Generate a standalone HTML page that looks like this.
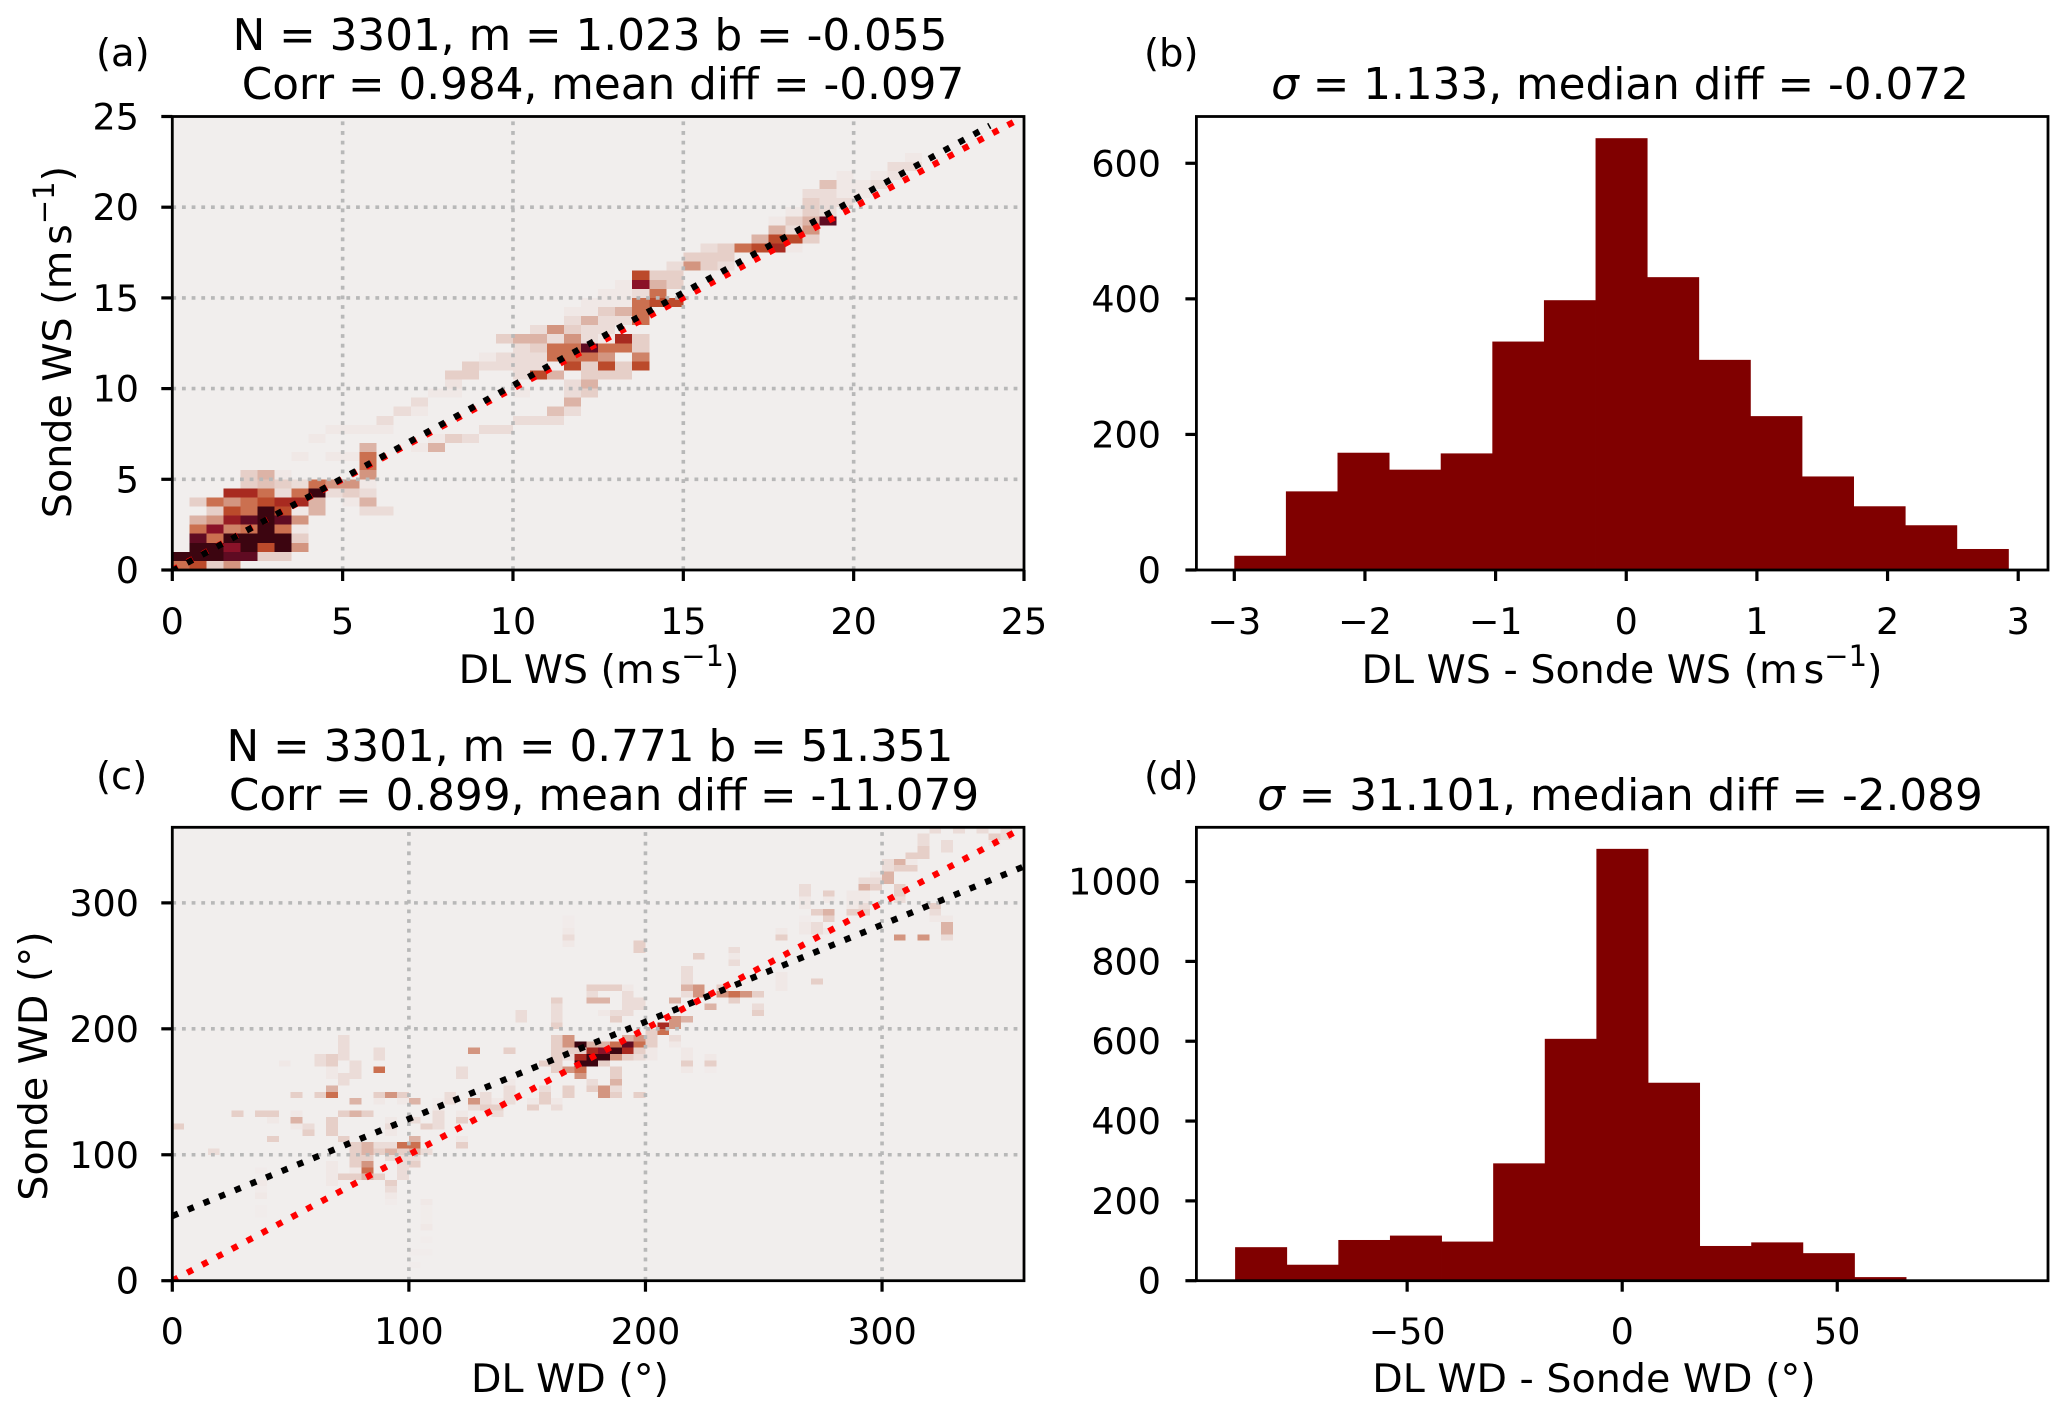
<!DOCTYPE html>
<html lang="en">
<head>
<meta charset="utf-8">
<title>DL vs Sonde wind comparison</title>
<style>
html,body{margin:0;padding:0;background:#fff;width:2067px;height:1416px;overflow:hidden}
svg{display:block}
text{font-family:"DejaVu Sans","Liberation Sans",sans-serif;fill:#000}
.title{font-size:43.7px}
.panel{font-size:38.5px}
.axis{font-size:39.6px}
.tick{font-size:36.5px}
</style>
</head>
<body>
<svg id="fig" xmlns="http://www.w3.org/2000/svg" width="2067" height="1416" viewBox="0 0 2067 1416">
  <g id="ax-a"></g>
  <g id="ax-b"></g>
  <g id="ax-c"></g>
  <g id="ax-d"></g>

  <text class="panel" x="96" y="66">(a)</text>
  <text class="panel" x="1144" y="66">(b)</text>
  <text class="panel" x="96" y="789">(c)</text>
  <text class="panel" x="1144" y="789">(d)</text>

  <text class="title" x="590" y="50" text-anchor="middle">N = 3301, m = 1.023 b = -0.055</text>
  <text class="title" x="603" y="99" text-anchor="middle">Corr = 0.984, mean diff = -0.097</text>
  <text class="title" x="1620" y="99" text-anchor="middle"><tspan font-style="italic">σ</tspan> = 1.133, median diff = -0.072</text>
  <text class="title" x="590" y="761" text-anchor="middle">N = 3301, m = 0.771 b = 51.351</text>
  <text class="title" x="604" y="810" text-anchor="middle">Corr = 0.899, mean diff = -11.079</text>
  <text class="title" x="1620" y="810" text-anchor="middle"><tspan font-style="italic">σ</tspan> = 31.101, median diff = -2.089</text>

  <text class="axis" x="599" y="683" text-anchor="middle">DL WS (m<tspan dx="6">s</tspan><tspan font-size="29" dy="-17">−1</tspan><tspan dy="17">)</tspan></text>
  <text class="axis" x="1622" y="683" text-anchor="middle">DL WS - Sonde WS (m<tspan dx="6">s</tspan><tspan font-size="29" dy="-17">−1</tspan><tspan dy="17">)</tspan></text>
  <text class="axis" x="570" y="1392" text-anchor="middle">DL WD (°)</text>
  <text class="axis" x="1594" y="1392" text-anchor="middle">DL WD - Sonde WD (°)</text>
  <text class="axis" transform="translate(71,342) rotate(-90)" text-anchor="middle">Sonde WS (m<tspan dx="6">s</tspan><tspan font-size="29" dy="-17">−1</tspan><tspan dy="17">)</tspan></text>
  <text class="axis" transform="translate(47,1066) rotate(-90)" text-anchor="middle">Sonde WD (°)</text>
</svg>

<script>
// ---------- Panel (a) data: wind speed 2-D histogram, [xBin, yBin, level] ----------
const wsBinWidth = 0.5;
const wsCells = [
[0,0,6],[1,0,7],[2,0,3],[3,0,5],
[0,1,11],[1,1,11],[2,1,11],[3,1,10],[4,1,10],[5,1,3],[6,1,3],
[1,2,11],[2,2,11],[3,2,9],[4,2,11],[5,2,7],[6,2,11],[7,2,5],
[1,3,10],[2,3,6],[3,3,11],[4,3,11],[5,3,11],[6,3,11],[7,3,3],
[1,4,6],[2,4,9],[3,4,5.5],[4,4,6],[5,4,11],[6,4,6],[7,4,1],
[1,5,4],[2,5,5],[3,5,8.5],[4,5,10],[5,5,11],[6,5,10],[7,5,5],
[2,6,3],[3,6,7],[4,6,6],[5,6,11],[6,6,7],[7,6,1],[8,6,4],[11,6,2],[12,6,2],
[1,7,3],[2,7,6],[3,7,5],[4,7,6],[5,7,7],[6,7,8],[7,7,8],[8,7,4],[10,7,1],[11,7,4],
[3,8,8],[4,8,8],[5,8,6],[6,8,2],[7,8,6],[8,8,11],[9,8,2],[10,8,3],[11,8,2],
[4,9,3],[5,9,3.5],[6,9,3],[7,9,2],[8,9,6],[9,9,5],[10,9,5],[11,9,1],
[4,10,3],[5,10,4],[6,10,1],[11,10,5],
[11,11,6],
[7,12,1],[9,12,1],[10,12,1],[11,12,6],
[11,13,4],[14,13,1],[15,13,4],
[8,14,1],[15,14,1],[16,14,3],[17,14,2],
[9,15,1],[10,15,1],[11,15,1],[12,15,1],[18,15,2],[19,15,2],
[12,16,2],[20,16,2],[21,16,2],[22,16,2],
[13,17,2],[14,17,1],[22,17,3.5],[23,17,2],
[14,18,2],[23,18,4],
[15,19,1],[16,19,1],[20,19,1],[23,19,2],[24,19,3],
[16,20,1.5],[23,20,2],[24,20,4],
[16,21,3],[17,21,3],[20,21,2],[21,21,7],[22,21,4],[24,21,3],[25,21,3],[26,21,3],
[17,22,3],[18,22,2],[19,22,2],[20,22,2],[21,22,2],[23,22,7],[24,22,3],[25,22,7],[26,22,3],[27,22,7],
[18,23,1],[19,23,2],[20,23,2],[21,23,2],[22,23,6],[23,23,6],[24,23,6],[25,23,5],[27,23,5.5],
[20,24,2],[21,24,3],[22,24,6],[23,24,6],[24,24,10],[25,24,6],[26,24,6],[27,24,3],
[19,25,3],[20,25,4],[21,25,4],[22,25,2],[23,25,5],[24,25,2],[25,25,1],[26,25,8],[27,25,3],
[21,26,2],[22,26,5],[23,26,3],[24,26,2],[25,26,2],
[23,27,2],[24,27,4],[25,27,2],[26,27,2],[27,27,6],
[23,28,1],[24,28,1],[25,28,3],[26,28,4],[27,28,6],
[24,29,1],[25,29,1],[26,29,1],[27,29,6],[28,29,7],[29,29,7],
[25,30,1],[26,30,1],[27,30,2],[28,30,6],
[26,31,1],[27,31,9],[28,31,4],[29,31,3],
[27,32,7],[28,32,3],[29,32,3],
[29,33,2],[30,33,5],[31,33,3],[32,33,2],
[30,34,3],[31,34,3],[32,34,3],
[31,35,2],[32,35,3],[33,35,6],[34,35,7],[35,35,8],[36,35,1],
[34,36,4],[35,36,7],[36,36,7],[37,36,3],
[35,37,4],[36,37,2],[37,37,5],
[35,38,1],[36,38,3],[37,38,4],[38,38,10],
[36,39,1],[37,39,3],[38,39,2],
[37,40,3],[38,40,2],[39,40,2],
[37,41,2],[38,41,2],[39,41,1],[40,41,1],
[38,42,3.5],[39,42,1],[40,42,1],[41,42,2],
[39,43,1],[41,43,1],[42,43,1.5],
[42,44,2],[43,44,2],
[43,45,1]
];
const wsFitSlope = 1.023;
const wsFitIntercept = -0.055;
const wsFitRange = [0, 24];
const wsOneToOneRange = [0, 25];
const wsTicks = [0, 5, 10, 15, 20, 25];

// ---------- Panel (b) data: wind speed difference histogram ----------
const wsDiffCounts = [21, 116, 173, 148, 172, 337, 398, 637, 432, 310, 227, 138, 94, 66, 31];
const wsDiffStart = -3.0;
const wsDiffBinWidth = 0.395;
const wsDiffXTicks = [-3, -2, -1, 0, 1, 2, 3];
const wsDiffYTicks = [0, 200, 400, 600];

// ---------- Panel (c) data: wind direction 2-D histogram, [xBin, yBin, level] ----------
const wdBinWidth = 5;
const wdCells = [
[0,24,3],[3,20,2],[5,26,3],[7,26,3],[8,26,3],[8,25,1],[8,22,3],[10,29,3],[9,34,1],
[10,26,1],[10,25,4],[10,24,1],[11,24,2],[11,23,3],[12,29,3],[12,35,2],[12,34,2],
[7,17,0.5],[7,15,1],[7,14,0.5],[7,13,1],[7,11,0.3],[7,10,0.3],
[13,35,3],[13,34,3],[13,33,1],[13,32,1],[13,30,4],[13,29,6],[13,25,3],[13,24,3],[13,23,3],
[14,38,2],[14,37,2],[14,36,2],[14,35,2],[14,32,2],[14,31,2],[14,26,3],[14,22,3],
[13,18,1],[13,17,1],[13,16,1],[13,15,1],
[15,34,2],[15,33,2],[15,32,2],[15,28,4],[15,26,4],[15,21,3],[15,20,3],[15,19,3],[15,18,3],[15,17,1],
[14,16,3],[15,16,3],
[16,26,3],[16,21,4],[16,20,4],[16,19,3],[16,18,5],[16,17,6],[16,16,4],
[17,36,2],[17,35,2],[17,33,6],[17,29,3],[17,28,1],[17,21,2],[17,20,3],[17,16,3],
[18,29,5],[18,25,1],[18,24,2],[18,23,1],[18,21,2],[18,20,4],[18,19,2],[18,15,3],[18,14,2],[18,13,1],[18,12,0.5],
[19,29,3],[19,28,1],[19,21,6],[19,20,3],[19,19,2],[19,18,2],[19,17,2],[19,16,2],
[20,28,4],[20,25,2],[20,22,4],[20,21,6],[20,20,4],[20,19,2],[20,18,3],[20,4,0.3],[20,2,0.3],
[21,24,3],[21,20,2],[21,12,1],[21,11,0.4],[21,10,0.4],[21,9,0.4],[21,8,1],[21,6,0.3],[21,4,0.3],
[22,28,0.5],[22,27,1],[22,26,2],[22,25,2],[22,24,2],
[23,29,2],[23,28,2],
[24,33,2],[24,32,2],[24,26,1],[24,25,3],[24,22,1],[24,21,3],
[25,36,5],[25,28,5],[25,27,2],
[26,29,2],[26,28,2],[26,27,3],
[27,28,1],[27,27,3],[27,26,2],
[28,36,3],[28,31,1],[28,30,2],[28,29,2],[28,28,2],
[29,42,2],[29,41,2],
[30,28,1],[30,27,3],
[31,34,3],[31,30,2],[31,29,3],[31,28,3],
[32,44,3],[32,43,2],[32,42,2],[32,41,2],[32,40,3],[32,38,3],[32,37,3],[32,36,3],[32,35,3],[32,34,3],[32,33,3],[32,28,1],[32,27,2],
[33,57,0.5],[33,56,0.5],[33,55,1],[33,54,2],[33,53,1],[33,38,5],[33,37,5],[33,36,3],[33,35,2],[33,33,5],[33,30,3],[33,29,3],
[34,37,11],[34,36,3],[34,35,8],[34,34,11],[34,33,6],[34,32,5],
[35,46,3],[35,45,2],[35,44,4],[35,37,4],[35,36,8],[35,35,11],[35,34,11],[35,31,2],[35,30,3],
[36,46,3],[36,44,4],[36,42,1],[36,37,4],[36,36,9],[36,35,11],[36,34,3],[36,30,5],[36,29,5],
[37,46,3],[37,42,2],[37,41,3],[37,37,6],[37,36,11],[37,35,5],[37,33,3],[37,32,3],[37,31,4],[37,30,2],[37,29,3],
[38,46,1],[38,45,2],[38,44,2],[38,43,2],[38,42,2],[38,38,4],[38,37,10],[38,36,8],[38,35,3],
[39,53,3],[39,52,3],[39,44,2],[39,43,2],[39,38,5],[39,37,6],[39,36,3],[39,35,2],[39,29,3],
[40,39,3],[40,38,3],[40,37,3],[40,36,1],[40,35,1],
[41,40,8],[41,39,6],
[42,44,4],[42,41,5],[42,40,5],[42,38,2],[42,37,1],
[43,49,2],[43,48,2],[43,47,2],[43,46,4],[43,45,2],[43,41,4],[43,36,1],[43,35,1],[43,34,3],[43,33,1],
[44,51,3],[44,46,5],[44,45,5],
[45,43,4],[45,35,1],[45,34,3],[45,33,0.5],
[46,46,3],[46,45,5],
[47,52,2],[47,51,1],[47,50,2],[47,45,6],[47,44,3],
[48,45,5],
[49,45,3],[49,43,2],[49,42,3],
[51,55,1],[51,54,3],[51,48,1],[51,47,1],[51,46,1],
[53,62,2],[53,61,2],[53,60,1],[53,59,1],[53,57,0.5],[53,56,1],[53,55,1],
[54,58,3],[54,56,2],[54,55,2],[54,47,3],
[55,61,3],[55,60,1],[55,58,4],[55,57,3],[55,55,1],
[57,61,1],[57,60,1],[57,59,1],[57,58,3],
[58,63,2],[58,62,4],[58,61,1],[58,60,1],[58,59,2],[58,58,3],
[59,64,1],[59,63,2],[59,62,3],
[60,66,2],[60,65,2],[60,64,4],[60,63,4],
[61,66,4],[61,65,3],[61,62,3],[61,61,3],[61,60,2],[61,54,5],
[62,67,3],[62,66,1],[62,65,3],
[63,70,2],[63,69,2],[63,68,3],[63,67,3],[63,54,5],
[64,71,2],[64,59,3],[64,58,2],[64,57,1],
[65,69,2],[65,68,2],[65,57,1],[65,56,4],[65,55,4],[65,54,2],
[66,71,2],[68,71,2],[69,70,3],[69,69,1],[70,71,2],[70,70,2]
];
const wdFitSlope = 0.771;
const wdFitIntercept = 51.351;
const wdFitRange = [0, 360];
const wdOneToOneRange = [0, 360];
const wdTicks = [0, 100, 200, 300];

// ---------- Panel (d) data: wind direction difference histogram ----------
const wdDiffCounts = [84, 40, 102, 113, 98, 294, 606, 1082, 496, 87, 96, 69, 9, 0, 0];
const wdDiffStart = -90;
const wdDiffBinWidth = 12;
const wdDiffXTicks = [-50, 0, 50];
const wdDiffYTicks = [0, 200, 400, 600, 800, 1000];

// ---------- Drawing ----------
const NS = 'http://www.w3.org/2000/svg';
const levelColors = ['#f1eeed','#f0e8e6','#ebdcd8','#e6cfc8','#dcb3a6','#d39580','#cb7050','#bb4a2b','#a82a20','#8a1228','#5f0b22','#3c0510'];

function hexToRgb(h){return [1,3,5].map(function(i){return parseInt(h.substr(i,2),16);});}
function levelColor(v){
  const c = Math.max(0, Math.min(levelColors.length - 1, v));
  const i = Math.floor(c), j = Math.min(levelColors.length - 1, i + 1), t = c - i;
  const a = hexToRgb(levelColors[i]), b = hexToRgb(levelColors[j]);
  return 'rgb(' + a.map(function(x,k){return Math.round(x + (b[k]-x)*t);}).join(',') + ')';
}
function linear(d0,d1,r0,r1){return function(v){return r0 + (v-d0)*(r1-r0)/(d1-d0);};}
function make(parent,tag,attrs,text){
  const el = document.createElementNS(NS,tag);
  for (const k in attrs) el.setAttribute(k,attrs[k]);
  if (text !== undefined) el.textContent = text;
  parent.appendChild(el);
  return el;
}
function fmt(v){return v < 0 ? '\u2212' + Math.abs(v) : String(v);}

function drawTicks(g,box,sx,sy,xTicks,yTicks,xBase,yEnd){
  xTicks.forEach(function(t){
    const tick = make(g,'line',{x1:sx(t),x2:sx(t),y1:box.b,y2:box.b+11,stroke:'#000','stroke-width':3.2});
    
    
    const lab = make(g,'text',{x:sx(t),y:xBase,'text-anchor':'middle','class':'tick'},fmt(t));
    
    
  });
  yTicks.forEach(function(t){
    const tick = make(g,'line',{x1:box.l-11,x2:box.l,y1:sy(t),y2:sy(t),stroke:'#000','stroke-width':3.2});
    
    
    const lab = make(g,'text',{x:yEnd,y:sy(t)+13,'text-anchor':'end','class':'tick'},fmt(t));
    
    
  });
}
function drawSpines(g,box){
  const frame = make(g,'rect',{x:box.l,y:box.t,width:box.r-box.l,height:box.b-box.t,fill:'none',stroke:'#000','stroke-width':2.8});
  
  
}

function drawScatter(id,box,max,cells,binWidth,ticks,slope,intercept,fitRange,oneRange,blackOnTop,yEnd,xBase){
  const g = document.getElementById(id);
  const sx = linear(0,max,box.l,box.r), sy = linear(0,max,box.b,box.t);
  const clipId = id + '-clip';
  const defs = make(g,'defs',{});
  const cp = make(defs,'clipPath',{id:clipId});
  make(cp,'rect',{x:box.l,y:box.t,width:box.r-box.l,height:box.b-box.t});
  const bg = make(g,'rect',{x:box.l,y:box.t,width:box.r-box.l,height:box.b-box.t,fill:levelColors[0]});
  
  
  const cg = make(g,'g',{'clip-path':'url(#'+clipId+')','shape-rendering':'crispEdges'});
  
  
  cells.forEach(function(c){
    const x0 = sx(c[0]*binWidth), x1 = sx((c[0]+1)*binWidth), y0 = sy((c[1]+1)*binWidth), y1 = sy(c[1]*binWidth);
    const r = make(cg,'rect',{x:x0,y:y0,width:x1-x0,height:y1-y0,fill:levelColor(c[2])});
    
    
  });
  const grid = make(g,'g',{stroke:'#b8b8b8','stroke-width':3.6,'stroke-dasharray':'3.8 5.87'});
  
  
  ticks.forEach(function(t){
    if (t === 0 || t === max) return;
    const v = make(grid,'line',{x1:sx(t),x2:sx(t),y1:box.b,y2:box.t});
    
    
    const h = make(grid,'line',{x1:box.l,x2:box.r,y1:sy(t),y2:sy(t)});
    
    
  });
  const lg = make(g,'g',{'clip-path':'url(#'+clipId+')','fill':'none','stroke-width':6.3,'stroke-dasharray':'6.3 10.6'});
  
  
  function red(){
    const l = make(lg,'line',{x1:sx(oneRange[0]),y1:sy(oneRange[0]),x2:sx(oneRange[1]),y2:sy(oneRange[1]),stroke:'#ff0000'});
    
    
  }
  function black(){
    const l = make(lg,'line',{x1:sx(fitRange[0]),y1:sy(slope*fitRange[0]+intercept),x2:sx(fitRange[1]),y2:sy(slope*fitRange[1]+intercept),stroke:'#000'});
    
    
  }
  if (blackOnTop) { red(); black(); } else { black(); red(); }
  drawTicks(g,box,sx,sy,ticks,ticks,xBase,yEnd);
  drawSpines(g,box);
}

function drawHist(id,box,xlim,ymax,counts,start,binWidth,xTicks,yTicks,yEnd,xBase){
  const g = document.getElementById(id);
  const sx = linear(xlim[0],xlim[1],box.l,box.r), sy = linear(0,ymax,box.b,box.t);
  counts.forEach(function(c,i){
    if (c <= 0) return;
    const x0 = sx(start + i*binWidth), x1 = sx(start + (i+1)*binWidth);
    const r = make(g,'rect',{x:x0,y:sy(c),width:x1-x0+0.4,height:box.b-sy(c),fill:'#800000'});
    
    
  });
  drawTicks(g,box,sx,sy,xTicks,yTicks,xBase,yEnd);
  drawSpines(g,box);
}

drawScatter('ax-a',{l:172.3,r:1024,t:116.5,b:570},25,wsCells,wsBinWidth,wsTicks,wsFitSlope,wsFitIntercept,wsFitRange,wsOneToOneRange,true,139,634);
drawHist('ax-b',{l:1196.4,r:2048,t:116.5,b:570},[-3.29,3.228],669,wsDiffCounts,wsDiffStart,wsDiffBinWidth,wsDiffXTicks,wsDiffYTicks,1161,634);
drawScatter('ax-c',{l:172.3,r:1024,t:827.3,b:1280.7},360,wdCells,wdBinWidth,wdTicks,wdFitSlope,wdFitIntercept,wdFitRange,wdOneToOneRange,false,139,1344);
drawHist('ax-d',{l:1196.4,r:2048,t:827.3,b:1280.7},[-99,99],1136,wdDiffCounts,wdDiffStart,wdDiffBinWidth,wdDiffXTicks,wdDiffYTicks,1161,1344);
</script>
</body>
</html>
